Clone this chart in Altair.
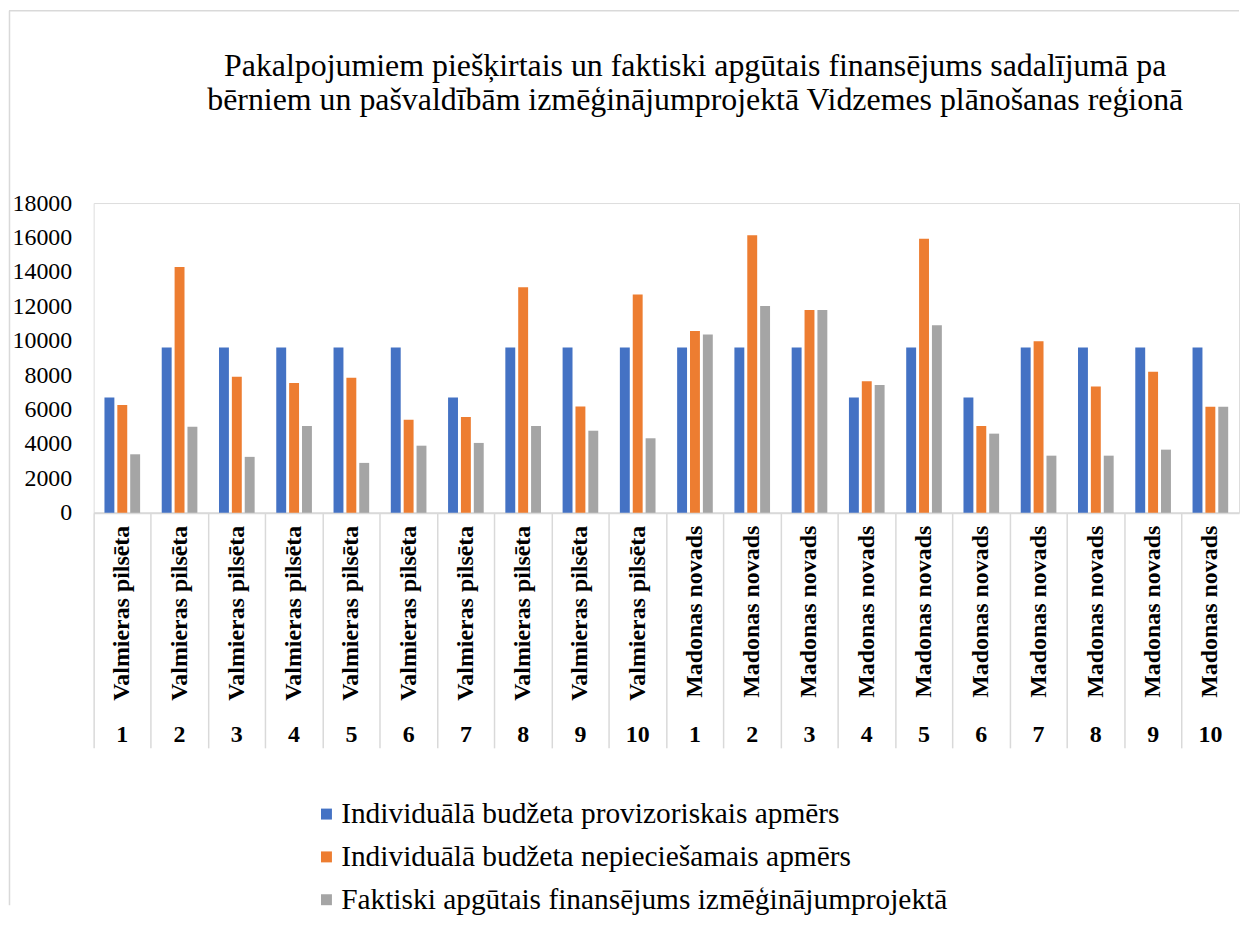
import altair as alt
import pandas as pd

FONT = "Liberation Serif"

regions = ["Valmieras pilsēta"] * 10 + ["Madonas novads"] * 10
numbers = [str(i) for i in range(1, 11)] * 2
keys = [f"{r}|{n}" for r, n in zip(regions, numbers)]

series = [
    "Individuālā budžeta provizoriskais apmērs",
    "Individuālā budžeta nepieciešamais apmērs",
    "Faktiski apgūtais finansējums izmēģinājumprojektā",
]
colors = ["#4472C4", "#ED7D31", "#A5A5A5"]

provisional = [6700, 9600, 9600, 9600, 9600, 9600, 6700, 9600, 9600, 9600,
               9600, 9600, 9600, 6700, 9600, 6700, 9600, 9600, 9600, 9600]
needed = [6260, 14280, 7900, 7550, 7850, 5410, 5570, 13100, 6180, 12680,
          10570, 16130, 11790, 7650, 15920, 5040, 9970, 7340, 8190, 6160]
actual = [3400, 5000, 3250, 5050, 2900, 3900, 4060, 5050, 4770, 4330,
          10360, 12020, 11790, 7420, 10900, 4600, 3320, 3320, 3670, 6160]

title_lines = [
    "Pakalpojumiem piešķirtais un faktiski apgūtais finansējums sadalījumā pa",
    "bērniem un pašvaldībām izmēģinājumprojektā Vidzemes plānošanas reģionā",
]

rows = []
for vals, s in zip([provisional, needed, actual], series):
    for k, v in zip(keys, vals):
        rows.append({"key": k, "series": s, "value": v})
df = pd.DataFrame(rows)
cats = pd.DataFrame({"key": keys, "region": regions, "num": numbers})

W, H = 1150, 311

xscale = alt.Scale(domain=keys, paddingInner=0, paddingOuter=0)
x_enc = alt.X(
    "key:N", sort=keys, scale=xscale, title=None,
    axis=alt.Axis(labels=False, bandPosition=0, tickSize=236, tickColor="#D9D9D9",
                  tickWidth=1.5, domainColor="#D9D9D9", domainWidth=2, grid=False),
)

bars = alt.Chart(df).mark_bar().encode(
    x=x_enc,
    xOffset=alt.XOffset("series:N", sort=series,
                        scale=alt.Scale(paddingInner=0.23, paddingOuter=0.84)),
    y=alt.Y("value:Q", title=None,
            scale=alt.Scale(domain=[0, 18000], nice=False),
            axis=alt.Axis(values=list(range(0, 18001, 2000)), format="d", grid=False,
                          domain=False, ticks=False, labelPadding=22, labelFont=FONT,
                          labelFontSize=24, labelColor="#000000")),
    color=alt.Color("series:N", sort=series,
                    scale=alt.Scale(domain=series, range=colors),
                    legend=alt.Legend(title=None, orient="none", legendX=219, legendY=598.75,
                                      direction="vertical", symbolType="square", symbolSize=121,
                                      symbolStrokeWidth=0, labelFont=FONT, labelFontSize=29.5,
                                      labelColor="#000000", labelLimit=1000, labelOffset=0,
                                      rowPadding=12, padding=0)),
)

region_text = alt.Chart(cats).mark_text(
    angle=270, align="right", baseline="middle", font=FONT, fontSize=24,
    fontWeight="bold", color="#000000",
).encode(x=alt.X("key:N", sort=keys), y=alt.value(324), text="region:N")

num_text = alt.Chart(cats).mark_text(
    align="center", baseline="middle", font=FONT, fontSize=24,
    fontWeight="bold", color="#000000",
).encode(x=alt.X("key:N", sort=keys), y=alt.value(534), text="num:N")

title = alt.Chart(pd.DataFrame({"t": [0]})).mark_text(
    align="center", baseline="alphabetic", font=FONT, fontSize=32, lineHeight=34,
    color="#000000",
).encode(x=alt.value(604), y=alt.value(-127.5), text=alt.value(title_lines))

frame_left = alt.Chart(pd.DataFrame({"t": [0]})).mark_rule(
    color="#D9D9D9", strokeWidth=1.5
).encode(x=alt.value(-84.5), y=alt.value(-193), y2=alt.value(705))

frame_top = alt.Chart(pd.DataFrame({"t": [0]})).mark_rule(
    color="#D9D9D9", strokeWidth=1.5
).encode(x=alt.value(-85), x2=alt.value(W), y=alt.value(-193))

chart = alt.layer(bars, region_text, num_text, title, frame_left, frame_top).properties(
    width=W, height=H,
    padding={"left": 0, "top": 0, "right": 0, "bottom": 0},
).configure_view(stroke=None).configure(background="#FFFFFF")

chart.save("out.html", embed_options={"renderer": "svg", "actions": False})
